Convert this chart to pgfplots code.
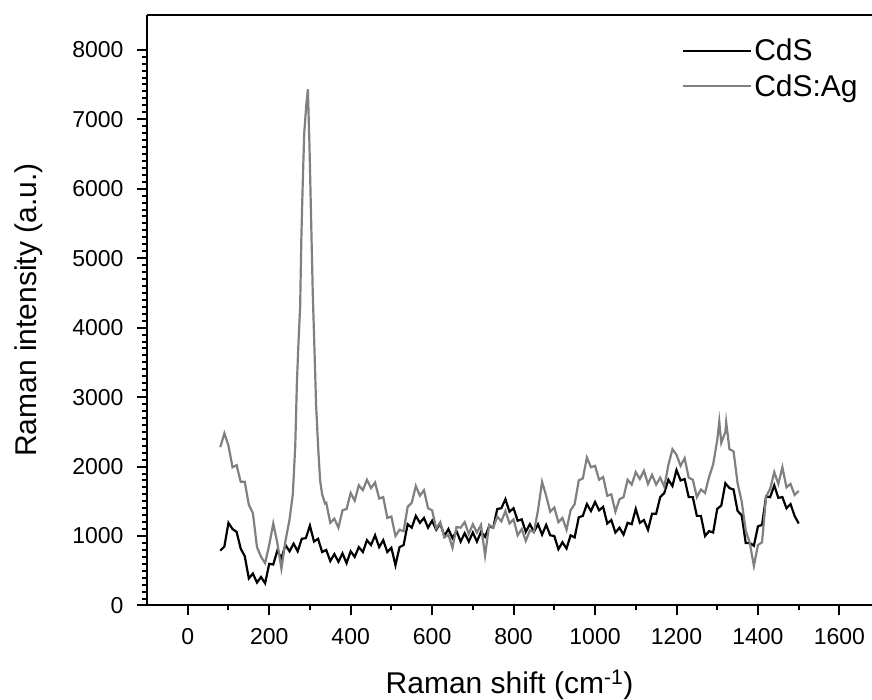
\documentclass[border=0pt]{standalone}
\usepackage{pgfplots}
\pgfplotsset{compat=1.18}
\usepackage{fontspec}
\setmainfont{Liberation Sans}
\definecolor{agray}{RGB}{128,128,128}
\begin{document}
\begin{tikzpicture}
\path[use as bounding box] (-147pt,-94.5pt) rectangle (725pt,605.5pt);
\begin{axis}[
  scale only axis,
  width=725pt, height=590.5pt,
  xmin=-100, xmax=1680, ymin=0, ymax=8500,
  axis x line*=bottom, axis y line*=left,
  axis line style={line width=2pt,-},
  xtick={0,200,...,1600}, ytick={0,1000,...,8000},
  minor x tick num=1, minor y tick num=9,
  tick align=outside,
  major tick length=10pt, minor tick length=5pt,
  every tick/.style={line width=2pt,black},
  /pgf/number format/assume math mode=true,
  /pgf/number format/1000 sep={},
  ticklabel style={font=\fontsize{23}{27}\selectfont},
  yticklabel style={xshift=-10pt},
  xticklabel style={yshift=-9pt},
  xlabel={Raman shift (cm\textsuperscript{-1})},
  ylabel={Raman intensity (a.u.)},
  label style={font=\fontsize{30}{36}\selectfont},
  xlabel style={at={(axis description cs:0.5,-0.149)}, anchor=base, inner sep=0pt},
  ylabel style={at={(axis description cs:-0.153,0.5)}, anchor=base, inner sep=0pt},
  legend style={at={(axis description cs:0.738,0.963)}, anchor=north west, draw=none, fill=none,
    font=\fontsize{30}{36}\selectfont, row sep=8pt, inner sep=0pt},
  legend cell align=left,
  legend image code/.code={\draw[#1, line width=2pt] (0pt,0pt) -- (68pt,0pt);},
]
\draw[line width=2pt] (rel axis cs:0,1) -- (rel axis cs:1,1);
\addplot[black, line width=2.2pt] coordinates {
(80,790)(90,850)(100,1190)(110,1100)(120,1060)(130,820)(140,710)(150,390)(160,460)(170,330)
(180,410)(190,320)(200,600)(210,590)(220,790)(230,680)(240,870)(250,780)(260,890)(270,780)
(280,960)(290,970)(300,1150)(310,920)(320,960)(330,770)(340,800)(350,640)(360,740)(370,630)
(380,750)(390,610)(400,780)(410,700)(420,840)(430,770)(440,940)(450,870)(460,1010)(470,840)
(480,940)(490,770)(500,830)(510,580)(520,840)(530,870)(540,1170)(550,1120)(560,1290)(570,1190)
(580,1260)(590,1120)(600,1220)(610,1090)(620,1180)(630,1000)(640,1100)(650,970)(660,1070)(670,920)
(680,1040)(690,920)(700,1050)(710,920)(720,1060)(730,990)(740,1140)(750,1120)(760,1390)(770,1400)
(780,1530)(790,1350)(800,1400)(810,1220)(820,1240)(830,1060)(840,1170)(850,1060)(860,1170)(870,1020)
(880,1160)(890,1010)(900,1000)(910,810)(920,910)(930,820)(940,1010)(950,980)(960,1270)(970,1290)
(980,1460)(990,1360)(1000,1490)(1010,1370)(1020,1420)(1030,1180)(1040,1230)(1050,1050)(1060,1120)(1070,1020)
(1080,1190)(1090,1170)(1100,1390)(1110,1190)(1120,1230)(1130,1090)(1140,1320)(1150,1320)(1160,1560)(1170,1620)
(1180,1810)(1190,1720)(1200,1950)(1210,1800)(1220,1820)(1230,1560)(1240,1560)(1250,1290)(1260,1290)(1270,1000)
(1280,1070)(1290,1050)(1300,1390)(1310,1440)(1320,1760)(1330,1690)(1340,1670)(1350,1360)(1360,1300)(1370,900)
(1380,900)(1390,860)(1400,1140)(1410,1160)(1420,1570)(1430,1560)(1440,1730)(1450,1550)(1460,1560)(1470,1400)
(1480,1460)(1490,1290)(1500,1180)
};
\addlegendentry{CdS}
\addplot[agray, line width=2.2pt] coordinates {
(80,2280)(90,2480)(100,2300)(110,1990)(120,2020)(130,1780)(140,1780)(150,1450)(160,1330)(170,840)
(180,700)(190,610)(200,870)(210,1180)(220,900)(230,530)(240,930)(250,1240)(258,1600)(264,2300)
(268,3200)(272,3800)(276,4300)(279,5300)(282,6000)(286,6800)(291,7200)(295,7430)(299,6600)(303,5540)
(307,4490)(311,3720)(315,2910)(320,2300)(325,1800)(330,1600)(337,1470)
(340,1480)(350,1190)(360,1250)(370,1120)(380,1370)(390,1390)(400,1620)(410,1510)(420,1730)(430,1660)
(440,1810)(450,1690)(460,1770)(470,1540)(480,1560)(490,1260)(500,1280)(510,1000)(520,1090)(530,1070)
(540,1420)(550,1480)(560,1720)(570,1580)(580,1660)(590,1400)(600,1370)(610,1110)(620,1200)(630,980)
(640,1020)(650,830)(660,1130)(670,1120)(680,1200)(690,1030)(700,1170)(710,1050)(720,1160)(730,720)
(740,1160)(750,1120)(760,1280)(770,1210)(780,1360)(790,1180)(800,1240)(810,1010)(820,1100)(830,930)
(840,1080)(850,1060)(860,1370)(870,1780)(880,1580)(890,1350)(900,1410)(910,1200)(920,1260)(930,1090)
(940,1370)(950,1460)(960,1800)(970,1830)(980,2130)(990,1990)(1000,2010)(1010,1810)(1020,1850)(1030,1580)
(1040,1600)(1050,1350)(1060,1530)(1070,1560)(1080,1810)(1090,1740)(1100,1920)(1110,1820)(1120,1940)(1130,1750)
(1140,1880)(1150,1740)(1160,1840)(1170,1710)(1180,2020)(1190,2250)(1200,2170)(1210,2010)(1220,2120)(1230,1840)
(1240,1810)(1250,1560)(1260,1670)(1270,1620)(1280,1850)(1290,2030)(1300,2380)(1305,2650)(1310,2340)(1320,2500)
(1322,2640)(1330,2250)(1340,2220)(1350,1760)(1360,1500)(1370,1080)(1380,900)(1390,570)(1400,870)(1410,910)
(1420,1570)(1430,1680)(1440,1920)(1450,1750)(1460,1990)(1470,1700)(1480,1750)(1490,1590)(1500,1650)
};
\addlegendentry{CdS:Ag}
\end{axis}
\end{tikzpicture}
\end{document}
